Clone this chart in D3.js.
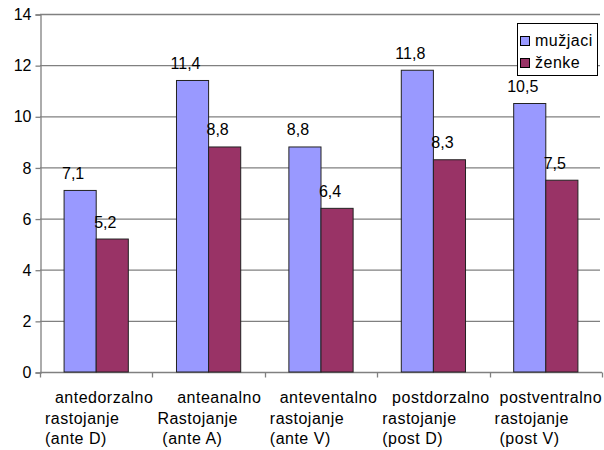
<!DOCTYPE html>
<html><head><meta charset="utf-8">
<script src="https://cdn.jsdelivr.net/npm/d3@7/dist/d3.min.js"></script>
<style>
html,body{margin:0;padding:0;background:#fff;}
text{font-family:"Liberation Sans",Arial,sans-serif;font-size:16px;fill:#000;white-space:pre;}
text.sp{letter-spacing:0.5px;}
</style></head>
<body>
<svg id="c" width="604" height="450"></svg>
<script>
const categories = ["antedorzalno rastojanje (ante D)","anteanalno Rastojanje (ante A)","anteventalno rastojanje (ante V)","postdorzalno rastojanje (post D)","postventralno rastojanje (post V)"];
const categoryLines = [
  ["  antedorzalno","rastojanje","(ante D)"],
  ["    anteanalno","Rastojanje"," (ante A)"],
  ["  anteventalno","rastojanje","(ante V)"],
  ["  postdorzalno","rastojanje","(post D)"],
  [" postventralno","rastojanje"," (post V)"]
];
const seriesNames = ["mužjaci","ženke"];
const muzjaci = [7.1, 11.4, 8.8, 11.8, 10.5];
const zenke = [5.2, 8.8, 6.4, 8.3, 7.5];
const yTicks = [0,2,4,6,8,10,12,14];
const colors = ["#9999FF","#993366"];

(function(){
const svg = d3.select("#c");
const pL = 40, pR = 602, pT = 14, pB = 372;
const y = d3.scaleLinear().domain([0,14]).range([pB, pT]);
const x0 = d3.scaleBand().domain(categories).range([pL, pR]).padding(0);
const x1 = d3.scaleBand().domain(seriesNames).range([0, x0.bandwidth()]).paddingInner(0).paddingOuter(0.75);
const values = [muzjaci, zenke];
const fmt = v => d3.format(".1f")(v).replace(".", ",");

// gridlines
svg.append("g").selectAll("line").data(yTicks.filter(t=>t>0)).join("line")
  .attr("x1", pL).attr("x2", 600).attr("y1", d=>y(d)+0.5).attr("y2", d=>y(d)+0.5)
  .attr("stroke","#808080").attr("stroke-width",1.3);

// y axis
const yAxis = d3.axisLeft(y).tickValues(yTicks).tickSize(5).tickPadding(4).tickFormat(d3.format("d"));
const gy = svg.append("g").attr("transform",`translate(${pL+0.5},0.5)`).call(yAxis);
gy.select(".domain").attr("stroke","#808080").attr("stroke-width",1.3);
gy.selectAll(".tick line").attr("stroke","#808080").attr("stroke-width",1.3);
gy.selectAll(".tick text").style("font-size","16px").attr("fill","#000");

// x axis
const gx = svg.append("g").attr("transform",`translate(0,${pB+0.5})`);
gx.append("line").attr("x1",pL).attr("x2",pR).attr("stroke","#808080").attr("stroke-width",1.3);
const bounds = categories.map(c=>x0(c)).concat([x0(categories[categories.length-1])+x0.bandwidth()]);
gx.selectAll("line.t").data(bounds).join("line").attr("class","t")
  .attr("x1",d=>Math.round(d)+0.5).attr("x2",d=>Math.round(d)+0.5).attr("y1",0).attr("y2",5)
  .attr("stroke","#808080").attr("stroke-width",1.3);

// bars
const groups = svg.append("g").selectAll("g").data(categories).join("g")
  .attr("transform", c=>`translate(${x0(c)},0)`);
seriesNames.forEach((s,si)=>{
  groups.append("rect")
    .attr("x", x1(s)).attr("width", x1.bandwidth())
    .attr("y", (c,i)=>y(values[si][i])).attr("height",(c,i)=>y(0)-y(values[si][i]))
    .attr("fill", colors[si]).attr("stroke","#222").attr("stroke-width",1);
});
// value labels
seriesNames.forEach((s,si)=>{
  groups.append("text")
    .attr("x", x1(s)+x1.bandwidth()/2-7)
    .attr("y", (c,i)=>y(values[si][i])-11.5)
    .attr("text-anchor","middle")
    .text((c,i)=>fmt(values[si][i]));
});

// category labels
groups.each(function(c,i){
  const g = d3.select(this);
  categoryLines[i].forEach((ln,li)=>{
    g.append("text").attr("class","sp").attr("x",5).attr("y",403+li*20.5).attr("xml:space","preserve").text(ln);
  });
});

// legend
const lg = svg.append("g");
lg.append("rect").attr("x",517.5).attr("y",23.5).attr("width",80).attr("height",52)
  .attr("fill","#fff").attr("stroke","#000").attr("stroke-width",1);
seriesNames.forEach((s,si)=>{
  lg.append("rect").attr("x",520.5).attr("y",36.5+si*22).attr("width",9).attr("height",9)
    .attr("fill",colors[si]).attr("stroke","#000").attr("stroke-width",1);
  lg.append("text").attr("class","sp").attr("x",535).attr("y",46+si*22).text(s);
});
})();
</script>
</body></html>
